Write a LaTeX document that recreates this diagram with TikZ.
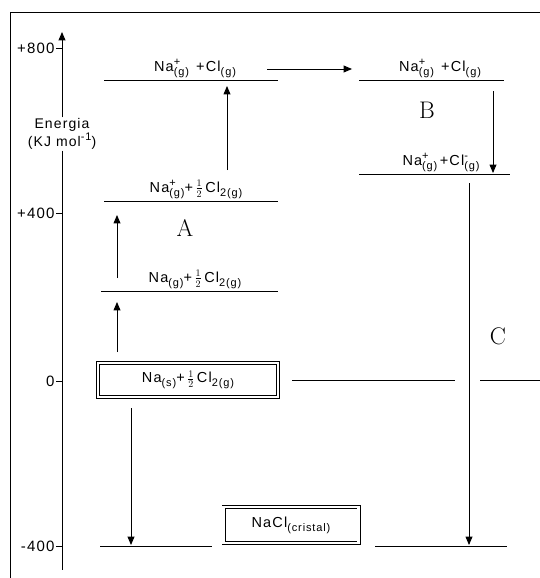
\documentclass[tikz,border=0pt]{standalone}
\usepackage{amsmath}
\usepackage{fontspec}
\setsansfont{Liberation Sans}[LetterSpace=8]
\usetikzlibrary{positioning, shapes, arrows}

\newcommand{\chup}[1]{\raisebox{6pt}{\fontsize{11}{11}\selectfont #1}}
\newcommand{\chdn}[1]{\raisebox{-4pt}{\fontsize{11}{11}\selectfont #1}}
\newcommand{\spc}[3]{#1\rlap{\chup{#2}}\chdn{#3}}
\newcommand{\half}{\,$\tfrac{1}{2}$\,}

\begin{document}
\begin{tikzpicture}[x=1pt, y=-1pt, >=triangle 45, line width=0.9pt,
  font=\sffamily\fontsize{14.5}{16}\selectfont]
  \useasboundingbox (0,0) rectangle (540,578);
  \draw (10,578) -- (10,12) -- (540,12);

  % energy axis
  \node (energia) [align=center, inner sep=1pt, font=\sffamily\fontsize{14}{16}\selectfont] at (62,134)
    {Energia\\(KJ mol\chup{-1})};
  \coordinate (axtop) at (62,32);
  \coordinate (axbot) at (62,570);
  \draw [->] (energia.north) -- (axtop);
  \draw (energia.south) -- (axbot);
  \foreach \y/\t in {48/+800, 213/+400, 381/0, 546/-400} {
    \draw (56,\y) -- (62,\y);
    \node (t\y) [left, inner sep=1pt, font=\sffamily\fontsize{15}{17}\selectfont] at (56,\y) {\t};
  }

  % levels
  \coordinate (ionla) at (104,80);  \coordinate (ionlb) at (278,80);
  \coordinate (ionra) at (359,80);  \coordinate (ionrb) at (504,80);
  \coordinate (aniona) at (359,174); \coordinate (anionb) at (510,174);
  \coordinate (naplusa) at (104,201); \coordinate (naplusb) at (278,201);
  \coordinate (naga) at (101,291);  \coordinate (nagb) at (278,291);
  \coordinate (zeroa) at (292,380); \coordinate (zerob) at (455,380);
  \coordinate (zeroc) at (480,380); \coordinate (zerod) at (540,380);
  \coordinate (crysa) at (100,546); \coordinate (crysb) at (212,546);
  \coordinate (crysc) at (375,546); \coordinate (crysd) at (507,546);
  \draw (ionla) -- (ionlb);
  \draw (ionra) -- (ionrb);
  \draw (aniona) -- (anionb);
  \draw (naplusa) -- (naplusb);
  \draw (naga) -- (nagb);
  \draw (zeroa) -- (zerob);
  \draw (zeroc) -- (zerod);
  \draw (crysa) -- (crysb);
  \draw (crysc) -- (crysd);

  \node (ionl) [above, inner sep=2pt] at (195,80) {\spc{Na}{+}{(g)}\enspace+Cl\chdn{(g)}};
  \node (ionr) [above, inner sep=2pt] at (440,80) {\spc{Na}{+}{(g)}\enspace+Cl\chdn{(g)}};
  \node (anion) [above, inner sep=2pt] at (441,174) {\spc{Na}{+}{(g)}\,+\spc{Cl}{-}{(g)}};
  \node (naplus) [above, inner sep=2pt] at (196,201) {\spc{Na}{+}{(g)}+\half Cl\chdn{2(g)}};
  \node (nag) [above, inner sep=2pt] at (195,291) {Na\chdn{(g)}+\half Cl\chdn{2(g)}};
  \node (nas) [draw, double, double distance=2.2pt, minimum width=180, minimum height=34] at (188,380)
    {Na\chdn{(s)}+\half Cl\chdn{2(g)}};
  \node (nacl) [draw, double, double distance=2.2pt, minimum width=135, minimum height=36] at (291,525)
    {NaCl\chdn{(cristal)}};

  \node (lblA) [font=\rmfamily\fontsize{24}{26}\selectfont] at (185,228) {A};
  \node (lblB) [font=\rmfamily\fontsize{24}{26}\selectfont] at (427,110) {B};
  \node (lblC) [font=\rmfamily\fontsize{24}{26}\selectfont] at (498,336) {C};

  % arrows
  \coordinate (h1) at (267,69);  \coordinate (h2) at (352,69);
  \coordinate (v1a) at (227,170); \coordinate (v1b) at (227,86);
  \coordinate (v2a) at (117,278); \coordinate (v2b) at (117,215);
  \coordinate (v3a) at (117,352); \coordinate (v3b) at (117,302);
  \coordinate (v4a) at (131,408); \coordinate (v4b) at (131,545);
  \coordinate (v5a) at (493,91);  \coordinate (v5b) at (493,173);
  \coordinate (v6a) at (469,183); \coordinate (v6b) at (469,545);
  \draw [->] (h1) -- (h2);
  \draw [->] (v1a) -- (v1b);
  \draw [->] (v2a) -- (v2b);
  \draw [->] (v3a) -- (v3b);
  \draw [->] (v4a) -- (v4b);
  \draw [->] (v5a) -- (v5b);
  \draw [->] (v6a) -- (v6b);
\end{tikzpicture}
\end{document}
